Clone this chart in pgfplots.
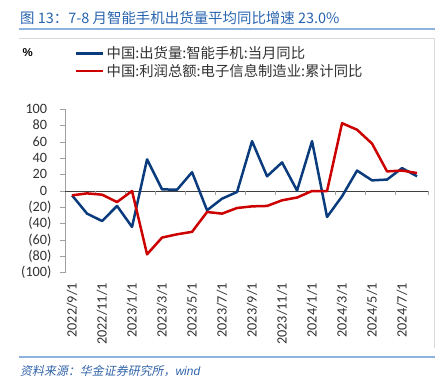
\documentclass[border=0pt]{standalone}
\usepackage{pgfplots}
\pgfplotsset{compat=1.18}
\usepackage{fontspec}
\setmainfont{Liberation Sans}
\newfontfamily\cjk{Noto Sans CJK SC}
\newfontfamily\cjkit{Noto Sans CJK SC}[FakeSlant=0.2]
\newfontfamily\calib{Carlito}
\definecolor{titleblue}{RGB}{40,100,175}
\definecolor{rulecol}{RGB}{140,180,222}
\definecolor{srcblue}{RGB}{50,100,170}
\definecolor{sblue}{RGB}{10,60,125}
\definecolor{sred}{RGB}{204,0,0}
\definecolor{framegray}{RGB}{217,217,217}
\definecolor{axgray}{RGB}{160,160,160}
\definecolor{txt}{RGB}{50,50,50}

\pgfplotstableread{
m blue red
0 -5.3 -5.3
1 -27.7 -2.9
2 -36.7 -4.5
3 -18.3 -13.5
4 -44 0
5 38.7 -77.5
6 2 -57
7 1.6 -53
8 23 -50
9 -23.6 -25.7
10 -9.4 -27.7
11 -1.2 -20.8
12 61 -18.8
13 18 -18.3
14 35 -11.4
15 0.5 -8
16 61 0
17 -31.8 0
18 -6.5 83
19 25 75
20 13 58
21 14 24
22 28 25
23 18 22
}\datatable

\begin{document}
\begin{tikzpicture}
\useasboundingbox (0bp,0bp) rectangle (444bp,381bp);
\node[anchor=west, inner sep=0pt, text=titleblue, font=\cjk\fontsize{14.5}{17}\selectfont] at (20bp,363bp) {图 13：7-8 月智能手机出货量平均同比增速 23.0\%};
\draw[rulecol, line width=1.5bp] (19bp,352bp) -- (435bp,352bp);
\draw[framegray, line width=0.8bp] (19bp,343bp) -- (434bp,343bp) -- (434bp,33bp);
\draw[rulecol, line width=1.5bp] (19bp,24bp) -- (435bp,24bp);
\node[anchor=west, inner sep=0pt, text=srcblue, font=\fontsize{12}{14}\selectfont] at (20bp,10bp) {{\cjkit 资料来源：华金证券研究所，}\textit{wind}};
\node[anchor=west, inner sep=0pt, text=black, font=\bfseries\fontsize{11.5}{13}\selectfont] at (22.5bp,328.5bp) {\%};
\begin{axis}[
  at={(65bp,108.3bp)}, anchor=south west,
  scale only axis, width=363bp, height=163.4bp,
  xmin=-0.47, xmax=23.73, ymin=-100, ymax=100,
  clip=false,
  axis lines=left, axis line style={-},
  x axis line style={draw=none},
  y axis line style={draw=axgray, line width=0.8bp},
  xtick={0,2,...,22},
  xticklabels={2022/9/1,2022/11/1,2023/1/1,2023/3/1,2023/5/1,2023/7/1,2023/9/1,2023/11/1,2024/1/1,2024/3/1,2024/5/1,2024/7/1},
  x tick style={draw=none},
  xticklabel style={yshift=-5.3bp, rotate=90, anchor=east, inner sep=0pt, font=\calib\fontsize{14.3}{16}\selectfont, text=txt},
  ytick={-100,-80,...,100},
  yticklabels={(100),(80),(60),(40),(20),0\phantom{)},20\phantom{)},40\phantom{)},60\phantom{)},80\phantom{)},100\phantom{)}},
  y tick style={draw=axgray, line width=0.8bp},
  tick align=outside, major tick length=5bp,
  yticklabel style={anchor=east, inner sep=0pt, xshift=-8.3bp, font=\calib\fontsize{14.3}{16}\selectfont, text=txt},
  legend style={draw=none, fill=none, at={(0.0275,1.398)}, anchor=north west,
    font=\cjk\fontsize{14.4}{17}\selectfont, text=txt, row sep=0bp, inner sep=0pt},
  legend cell align=left,
  legend image code/.code={\draw[#1] (0bp,0bp) -- (27bp,0bp);},
]
\draw[color=black!75, line width=0.9bp] (axis cs:-0.47,0) -- (axis cs:23.73,0);
\foreach \t in {1.53,3.53,5.53,7.53,9.53,11.53,13.53,15.53,17.53,19.53,21.53,23.73}{
  \edef\temp{\noexpand\draw[axgray, line width=0.8bp] (axis cs:\t,0) -- ++(0bp,-4bp);}\temp
}
\addplot[sblue, line width=2.5bp, line join=round] table[x=m, y=blue] {\datatable};
\addlegendentry{中国:出货量:智能手机:当月同比}
\addplot[sred, line width=2.5bp, line join=round] table[x=m, y=red] {\datatable};
\addlegendentry{中国:利润总额:电子信息制造业:累计同比}
\end{axis}
\end{tikzpicture}
\end{document}
